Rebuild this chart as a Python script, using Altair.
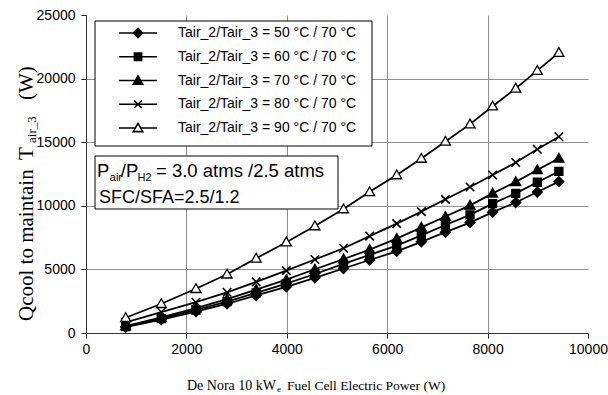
import altair as alt
import pandas as pd

# Fuel cell electric power (W) at each operating point
power = [790, 1500, 2190, 2810, 3390, 3990, 4560, 5130, 5650, 6190, 6680, 7160, 7650, 8100, 8560, 8990, 9420]

# Cooling load Qcool (W) needed to hold Tair_3 = 70 °C, per inlet temperature Tair_2
q_50 = [470, 1060, 1690, 2300, 2950, 3630, 4340, 5070, 5740, 6420, 7170, 7930, 8680, 9500, 10260, 11080, 11900]
q_60 = [510, 1130, 1810, 2460, 3160, 3880, 4640, 5430, 6140, 6870, 7670, 8490, 9290, 10170, 10980, 11850, 12700]
q_70 = [550, 1220, 1950, 2660, 3410, 4190, 5010, 5810, 6560, 7420, 8300, 9160, 10030, 10980, 11880, 12820, 13740]
q_80 = [840, 1650, 2420, 3200, 4020, 4900, 5780, 6660, 7620, 8600, 9540, 10510, 11480, 12420, 13400, 14450, 15430]
q_90 = [1200, 2300, 3480, 4620, 5870, 7140, 8410, 9750, 11100, 12420, 13720, 15060, 16420, 17830, 19230, 20630, 22040]

series_names = [
    "Tair_2/Tair_3 = 50 °C / 70 °C",
    "Tair_2/Tair_3 = 60 °C / 70 °C",
    "Tair_2/Tair_3 = 70 °C / 70 °C",
    "Tair_2/Tair_3 = 80 °C / 70 °C",
    "Tair_2/Tair_3 = 90 °C / 70 °C",
]
series_values = [q_50, q_60, q_70, q_80, q_90]

x_ticks = [0, 2000, 4000, 6000, 8000, 10000]
y_ticks = [0, 5000, 10000, 15000, 20000, 25000]

rows = []
for name, vals in zip(series_names, series_values):
    for p, q in zip(power, vals):
        rows.append({"series": name, "power": p, "qcool": q})
df = pd.DataFrame(rows)

LEFT, TOP = 86, 15
W, H = 502, 318

SANS = "Liberation Sans"
SERIF = "Liberation Serif"

axis_common = dict(
    title=None,
    format="d",
    labelFont=SANS,
    labelFontSize=14,
    labelColor="black",
    tickColor="#222222",
    tickWidth=1,
    tickSize=5,
    domainColor="#333333",
    domainWidth=1,
    grid=True,
    gridColor="#8f8f8f",
    gridWidth=1,
)

x_enc = alt.X(
    "power:Q",
    scale=alt.Scale(domain=[0, 10000], nice=False),
    axis=alt.Axis(
        values=x_ticks,
        labelPadding=4,
        labelFlush=False,
        gridOpacity={"condition": {"test": "datum.value >= 10000", "value": 0}, "value": 1},
        **axis_common,
    ),
)
y_enc = alt.Y(
    "qcool:Q",
    scale=alt.Scale(domain=[0, 25000], nice=False),
    axis=alt.Axis(
        values=y_ticks,
        labelPadding=6,
        gridOpacity={"condition": {"test": "datum.value >= 25000", "value": 0}, "value": 1},
        **axis_common,
    ),
)

lines = alt.Chart(df).mark_line(color="black", strokeWidth=1.8).encode(
    x=x_enc, y=y_enc, detail="series:N"
)

# marker glyphs drawn on the curves (unit paths scaled by the mark size)
marker_paths = [
    "M0,-1L1,0L0,1L-1,0Z",
    "M-0.8,-0.8H0.8V0.8H-0.8Z",
    "M0,-1L1,0.75L-1,0.75Z",
    "M-0.85,-0.85L0.85,0.85M0.85,-0.85L-0.85,0.85",
    "M0,-1L1,0.75L-1,0.75Z",
]
marker_fill = ["black", "black", "black", None, "white"]

point_layers = []
for name, path, fill in zip(series_names, marker_paths, marker_fill):
    if fill is None:
        mk = alt.Chart(df).mark_point(
            shape=path, size=100, filled=False, color="black", strokeWidth=1.6, opacity=1
        )
    else:
        mk = alt.Chart(df).mark_point(
            shape=path, size=100, filled=True, fill=fill, stroke="black", strokeWidth=1.3, opacity=1
        )
    point_layers.append(
        mk.transform_filter(alt.datum.series == name).encode(x=x_enc, y=y_enc)
    )

# legend glyphs: a line segment with the series marker in the middle
legend_paths = [
    "M-1,0H1M0,-0.24L0.24,0L0,0.24L-0.24,0Z",
    "M-1,0H1M-0.19,-0.19H0.19V0.19H-0.19Z",
    "M-1,0H1M0,-0.24L0.25,0.19L-0.25,0.19Z",
    "M-1,0H1M-0.2,-0.2L0.2,0.2M0.2,-0.2L-0.2,0.2",
    "M-1,0H-0.14M0.14,0H1M0,-0.24L0.25,0.19L-0.25,0.19Z",
]
legend_fill = ["black", "black", "black", "black", "white"]
legend_stroke = ["black"] * 5

leg = alt.Legend(
    title=None,
    orient="none",
    legendX=14,
    legendY=8,
    direction="vertical",
    padding=0,
    symbolSize=1444,
    symbolStrokeWidth=1.6,
    symbolStrokeColor="black",
    symbolOpacity=1,
    symbolOffset=18,
    labelOffset=20,
    labelFont=SANS,
    labelFontSize=14,
    labelColor="black",
    labelLimit=400,
    clipHeight=20,
    rowPadding=3.75,
)

legend_layer = alt.Chart(df).mark_point(
    opacity=0, size=10, filled=True, strokeWidth=1.6
).encode(
    x=x_enc,
    y=y_enc,
    shape=alt.Shape("series:N", scale=alt.Scale(domain=series_names, range=legend_paths), legend=leg),
    fill=alt.Fill("series:N", scale=alt.Scale(domain=series_names, range=legend_fill), legend=leg),
    stroke=alt.Stroke("series:N", scale=alt.Scale(domain=series_names, range=legend_stroke), legend=leg),
)


def box(x0, y0, x1, y1):
    return alt.Chart(pd.DataFrame({"b": [0]})).mark_rect(
        fill="white", stroke="black", strokeWidth=1
    ).encode(
        x=alt.value(x0 - LEFT), x2=alt.value(x1 - LEFT),
        y=alt.value(y0 - TOP), y2=alt.value(y1 - TOP),
    )


def label(text, px, py, size, font, angle=0):
    return alt.Chart(pd.DataFrame({"t": [text]})).mark_text(
        align="left", baseline="alphabetic", font=font, fontSize=size,
        angle=angle, color="black",
    ).encode(x=alt.value(px - LEFT), y=alt.value(py - TOP), text="t:N")


legend_box = box(95, 21, 372, 146)
param_box = box(95, 156, 338, 209)

texts = [
    # operating conditions
    label("P", 97, 176.5, 18.5, SANS),
    label("air", 109.8, 180.5, 11, SANS),
    label("/P", 120.8, 176.5, 18.5, SANS),
    label("H2", 137.5, 180.5, 11, SANS),
    label("= 3.0 atms /2.5 atms", 156, 176.5, 18.5, SANS),
    label("SFC/SFA=2.5/1.2", 99, 202.5, 18, SANS),
    # x axis title
    label("De Nora 10 kW", 187, 390, 14, SERIF),
    label("e", 277, 392, 9, SERIF),
    label("Fuel Cell Electric Power (W)", 287, 390, 13.5, SERIF),
    # y axis title
    label("Qcool to maintain", 33, 321, 21, SERIF, angle=270),
    label("T", 33, 160, 21, SERIF, angle=270),
    label("air_3", 36, 143, 13, SERIF, angle=270),
    label("(W)", 33, 100, 21, SERIF, angle=270),
]

chart = alt.layer(
    lines, *point_layers, legend_layer, legend_box, param_box, *texts
).resolve_scale(
    shape="independent", fill="independent", stroke="independent"
).properties(
    width=W,
    height=H,
    padding={"left": LEFT, "top": TOP, "right": 608 - LEFT - W, "bottom": 395 - TOP - H},
    autosize=alt.AutoSizeParams(type="none"),
    background="white",
).configure_view(stroke="transparent")

chart.save("out.html", embed_options={"renderer": "svg", "actions": False})
